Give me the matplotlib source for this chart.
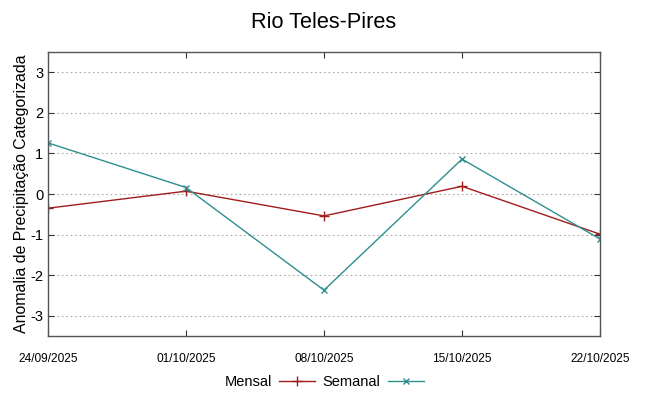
import matplotlib
matplotlib.use("Agg")
import matplotlib.pyplot as plt

dates = ["24/09/2025", "01/10/2025", "08/10/2025", "15/10/2025", "22/10/2025"]
mensal = [-0.35, 0.07, -0.54, 0.19, -0.99]
semanal = [1.26, 0.16, -2.37, 0.86, -1.11]
yticks = [-3, -2, -1, 0, 1, 2, 3]

plt.rcParams['font.family'] = ['Liberation Sans', 'DejaVu Sans']

fig = plt.figure(figsize=(6.48, 3.96), dpi=100)
ax = fig.add_axes([48/648, 1-336/396, 552/648, 284/396])
x = list(range(len(dates)))
ax.plot(x, mensal, color='#a01c1c', lw=1.0, marker='+', ms=7, mew=1.0, label='Mensal')
ax.plot(x, semanal, color='#2e8f8f', lw=1.0, marker='x', ms=5, mew=1.0, label='Semanal')

ax.set_xlim(0, len(dates)-1)
ax.set_ylim(-3.5, 3.5)
ax.set_yticks(yticks)
ax.set_yticklabels([str(v) for v in yticks], fontsize=10.5)
ax.set_xticks(x)
ax.set_xticklabels(dates, fontsize=8.6, fontstretch='condensed')
ax.tick_params(axis='x', pad=12)
ax.tick_params(direction='in', top=True, right=True, length=4, width=0.8, color='#333333')
ax.grid(axis='y', linestyle=(0, (1.5, 2.5)), color='#aaaaaa', lw=0.8)
for s in ax.spines.values():
    s.set_color('#555555')
    s.set_linewidth(1.0)
ax.set_ylabel('Anomalia de Precipitação Categorizada', fontsize=11.4, labelpad=1)
fig.suptitle('Rio Teles-Pires', fontsize=15.7, y=0.97)
ax.legend(loc='center', bbox_to_anchor=(0.5, -0.162), ncol=2, frameon=False,
          markerfirst=False, fontsize=10.5, handlelength=2.45, columnspacing=0.55, handletextpad=0.5)
fig.savefig('out.png', dpi=100)
